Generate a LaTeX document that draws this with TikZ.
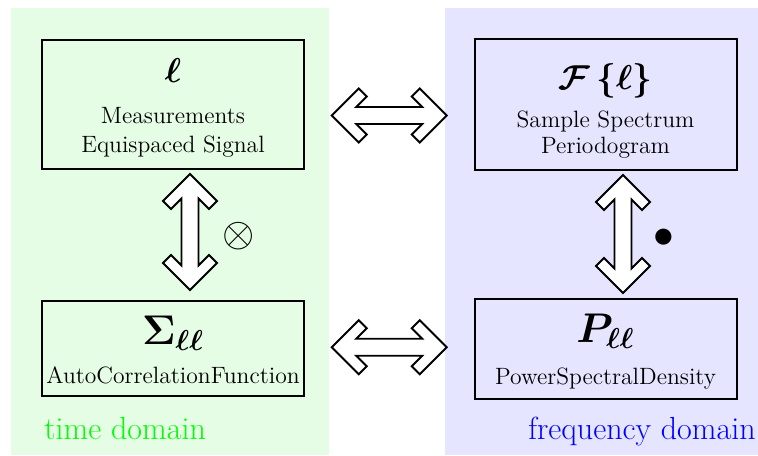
\documentclass[tikz,border=0pt]{standalone}
\usepackage{amsmath,bm}
\usetikzlibrary{calc}
\definecolor{timebg}{RGB}{229,252,229}
\definecolor{freqbg}{RGB}{229,229,255}
\tikzset{
  box/.style={draw=black, line width=1pt, minimum width=131pt, minimum height=#1, inner sep=0pt},
  txt/.style={anchor=base, inner sep=0pt, font=\fontsize{11.8}{14.5}\selectfont},
  arrowline/.style={draw=black, fill=white, line width=0.9pt, line join=miter},
  pics/fatarrow/.style={code={
    \path[arrowline] ({-#1},0) -- ({-#1+27},-27) -- ({-#1+35},-19) -- ({-#1+24.5},-8.5)
      -- ({#1-24.5},-8.5) -- ({#1-35},-19) -- ({#1-27},-27) -- ({#1},0)
      -- ({#1-27},27) -- ({#1-35},19) -- ({#1-24.5},8.5) -- ({-#1+24.5},8.5)
      -- ({-#1+35},19) -- ({-#1+27},27) -- cycle;
  }}
}
\begin{document}
\begin{tikzpicture}[x=0.5pt,y=-0.5pt]
\useasboundingbox (0,0) rectangle (758,455);
% domain backgrounds
\fill[timebg] (11,8) rectangle (329,455);
\fill[freqbg] (445,8) rectangle (758,455);
% boxes
\node[box=64.5pt] (tl) at (173,104.5) {};
\node[box=65.5pt] (tr) at (605.5,104.5) {};
\node[box=47.5pt] (bl) at (173,348.5) {};
\node[box=50pt] (br) at (605.5,349) {};
% top-left text
\node[txt, font=\fontsize{17.28}{20}\selectfont] (tlsym) at (173,82) {$\bm{\ell}$};
\node[txt] (tl1) at (173,123) {Measurements};
\node[txt] (tl2) at (173,152) {Equispaced Signal};
% top-right text
\node[txt, font=\fontsize{17.28}{20}\selectfont] (trsym) at (605.5,89.5) {$\bm{\mathcal{F}\left\{\ell\right\}}$};
\node[txt] (tr1) at (605.5,127) {Sample Spectrum};
\node[txt] (tr2) at (605.5,153) {Periodogram};
% bottom-left text
\node[txt, font=\fontsize{20.74}{24}\selectfont] (blsym) at (173,344) {$\bm{\Sigma_{\ell\ell}}$};
\node[txt] (bl1) at (173,383) {AutoCorrelationFunction};
% bottom-right text
\node[txt, font=\fontsize{20.74}{24}\selectfont] (brsym) at (605.5,342) {$\bm{P_{\ell\ell}}$};
\node[txt] (br1) at (605.5,384) {PowerSpectralDensity};
% double arrows
\pic at ($(tl.east)!0.5!(tr.west)+(0,11)$) {fatarrow=57.5};
\pic at ($(bl.east)!0.5!(br.west)+(0,-1.5)$) {fatarrow=57.5};
\pic[rotate=90] at ($(tl.south)!0.5!(bl.north)+(17,-3)$) {fatarrow=58};
\pic[rotate=90] at ($(tr.south)!0.5!(br.north)+(17.5,-0.5)$) {fatarrow=59};
% operators
\node[inner sep=0pt, font=\fontsize{21}{24}\selectfont] (conv) at (239,236) {$\otimes$};
\node[inner sep=0pt, font=\fontsize{22}{24}\selectfont] (prod) at (664,238) {$\bullet$};
% domain labels
\node[anchor=base west, inner sep=0pt, text=green, font=\fontsize{16}{19}\selectfont] (tdom) at (44,439) {time domain};
\node[anchor=base east, inner sep=0pt, text=blue, font=\fontsize{16}{19}\selectfont] (fdom) at (756,439) {frequency domain};
\end{tikzpicture}
\end{document}
